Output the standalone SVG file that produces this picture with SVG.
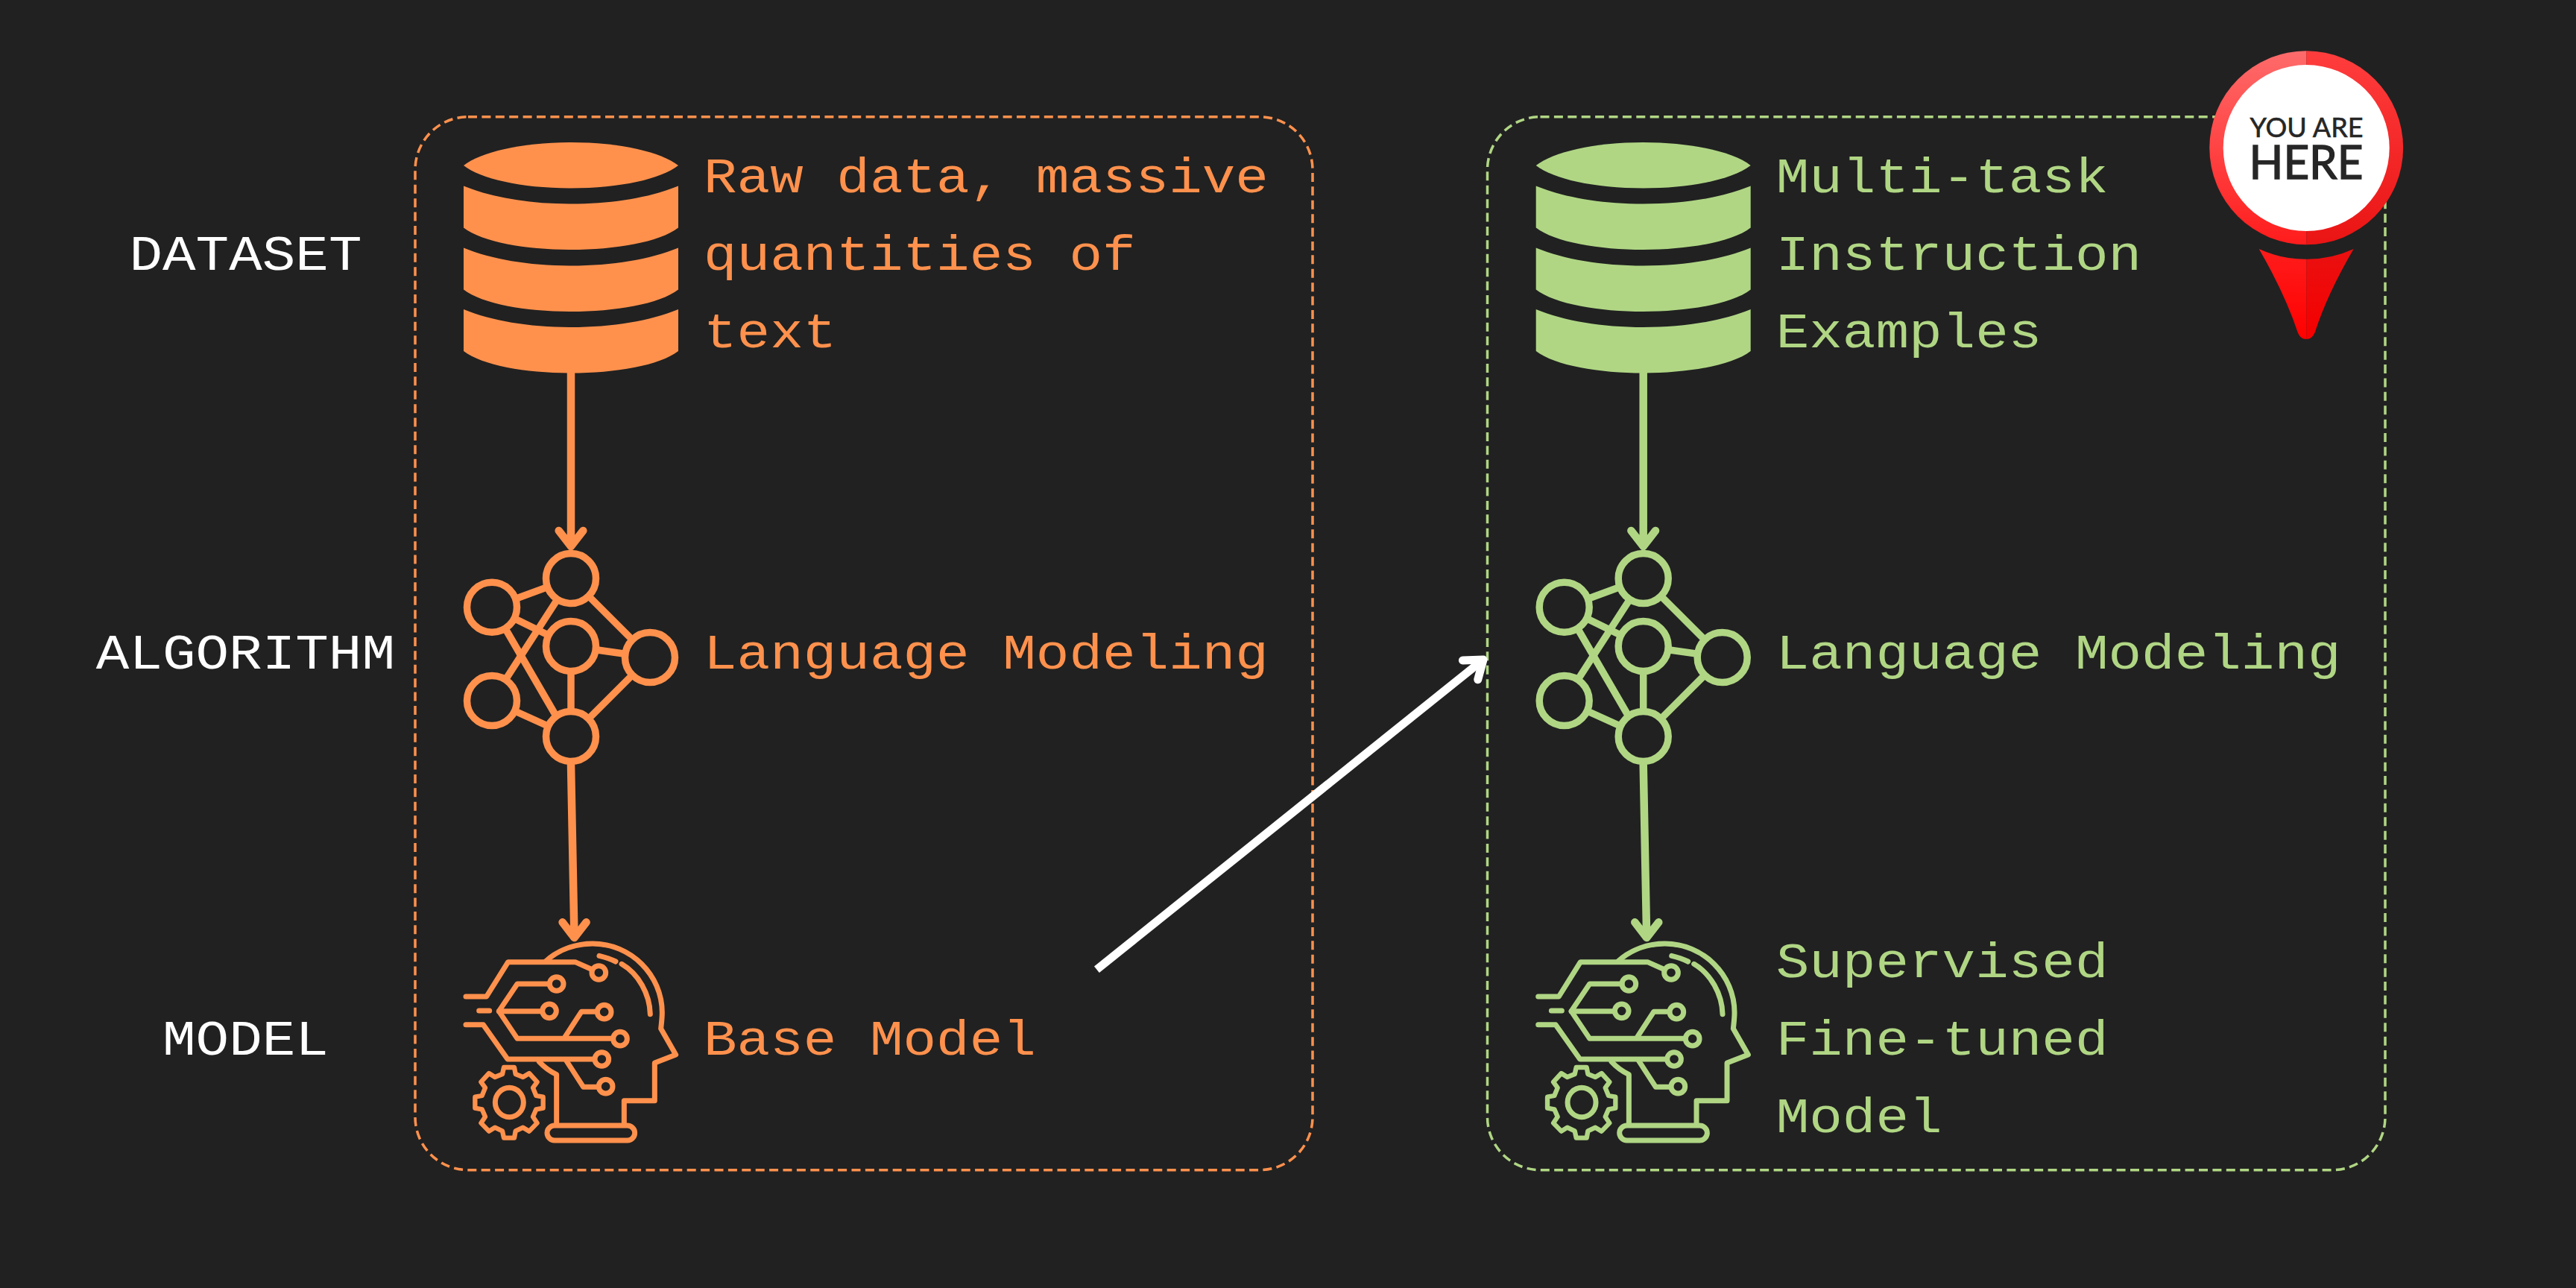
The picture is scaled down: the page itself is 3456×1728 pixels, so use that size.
<svg xmlns="http://www.w3.org/2000/svg" xmlns:xlink="http://www.w3.org/1999/xlink" width="3456" height="1728" viewBox="0 0 3456 1728">
<style>
.or{color:#ff914d}.gr{color:#b0d684}
.frame{fill:none;stroke-width:3.5;stroke-dasharray:12 6.4;stroke:currentColor}
.lb{font-family:"Liberation Mono","DejaVu Sans Mono",monospace;font-size:74.3px;fill:currentColor}
.wh{color:#fff}
.cn{fill:none;stroke:currentColor;stroke-width:10.5;stroke-linecap:round;stroke-linejoin:round}
.ic{fill:none;stroke:currentColor;stroke-linecap:round;stroke-linejoin:round}
.net line{stroke:currentColor;stroke-width:9.5}
.net circle{fill:#212121;stroke:currentColor;stroke-width:9.5}
.pin{font-family:Lato,"Open Sans",sans-serif;text-anchor:middle;fill:#262626;stroke:#262626}
</style>
<defs>
<g id="db" fill="currentColor">
<path d="M622,222 C645,204 700,191 766,191 C832,191 887,204 910,222 C887,240 832,252.5 766,252.5 C700,252.5 645,240 622,222Z"/>
<path d="M622,249.5 C660,265 710,273.5 766,273.5 C822,273.5 872,265 910,249.5 V305.5 C885,325 825,335 766,335 C707,335 647,325 622,305.5Z"/>
<path d="M622,332.5 C660,348 710,356.5 766,356.5 C822,356.5 872,348 910,332.5 V388.5 C885,408 825,418 766,418 C707,418 647,408 622,388.5Z"/>
<path d="M622,415 C660,430.5 710,439 766,439 C822,439 872,430.5 910,415 V471 C885,490.5 825,500.5 766,500.5 C707,500.5 647,490.5 622,471Z"/>
</g>
<g id="net" class="net">
<line x1="660" y1="815" x2="766" y2="776"/><line x1="660" y1="815" x2="766" y2="867"/><line x1="676" y1="840" x2="748" y2="964"/>
<line x1="660" y1="940" x2="766" y2="776"/><line x1="660" y1="940" x2="766" y2="988"/>
<line x1="766" y1="867" x2="872" y2="882"/><line x1="766" y1="867" x2="766" y2="988"/>
<line x1="766" y1="776" x2="872" y2="882"/><line x1="766" y1="988" x2="872" y2="882"/>
<circle cx="766" cy="776" r="33.5"/><circle cx="660" cy="814.7" r="33.5"/><circle cx="660" cy="940" r="33.5"/>
<circle cx="766" cy="867" r="33.5"/><circle cx="872" cy="882" r="33.5"/><circle cx="766" cy="988" r="33.5"/>
</g>
<g id="head" class="ic" transform="translate(600,1240) scale(.33333)" stroke-width="21">
<path d="M395,150 C450,100 520,78 585,78 C740,78 865,205 865,355 C865,380 862,400 860,420 L920,525 L835,558 L835,710 L712,710 L712,805"/>
<path d="M440,805 L440,605 C410,590 390,575 370,553"/>
<rect x="402" y="810" width="353" height="60" rx="30"/>
<path d="M75,291 L158,291 L245,152 L515,152 L578,180"/><circle cx="610" cy="195" r="28"/>
<circle cx="440" cy="240" r="28"/><path d="M412,240 L282,240 L208,350 L282,460 L665,460"/><circle cx="696" cy="461" r="28"/>
<path d="M208,350 L380,350"/><circle cx="411" cy="349" r="28"/>
<path d="M475,452 L540,352 L600,352"/><circle cx="632" cy="353" r="28"/>
<path d="M128,348 L170,348"/>
<path d="M75,404 L145,404 L243,543 L590,543"/><circle cx="622" cy="543" r="28"/>
<path d="M480,550 L548,655 L605,655"/><circle cx="638" cy="653" r="28"/>
<path d="M612,127 Q650,136 678,150"/><path d="M702,160 C770,200 815,280 817,362"/>
<path stroke-width="19" d="M228,576 L270,576 L275,603 L305,615 L330,600 L362,635 L345,658 L358,690 L386,695 L386,740 L358,745 L345,775 L362,800 L330,833 L305,818 L275,832 L270,860 L228,860 L222,832 L192,818 L168,833 L136,800 L153,775 L140,745 L112,740 L112,695 L140,690 L153,658 L136,635 L168,600 L192,615 L222,603Z"/>
<ellipse cx="250" cy="717" rx="57" ry="59"/>
</g>
<linearGradient id="rl" x1="0" y1="0" x2="0" y2="1"><stop offset="0" stop-color="#ff6b6b"/><stop offset="1" stop-color="#ff1c1c"/></linearGradient>
<linearGradient id="rr" x1="0" y1="0" x2="0" y2="1"><stop offset="0" stop-color="#ff3d3d"/><stop offset="1" stop-color="#ea1414"/></linearGradient>
<linearGradient id="tl" x1="0" y1="0" x2="0" y2="1"><stop offset="0" stop-color="#ff1c1c"/><stop offset="1" stop-color="#ff0000"/></linearGradient>
<linearGradient id="tr" x1="0" y1="0" x2="0" y2="1"><stop offset="0" stop-color="#ea1010"/><stop offset="1" stop-color="#f50000"/></linearGradient>
</defs>
<rect width="3456" height="1728" fill="#212121"/>
<g id="frames">
<rect id="frame-left" class="frame or" x="557" y="156.7" width="1204" height="1413" rx="71"/>
<rect id="frame-right" class="frame gr" x="1995.5" y="156.7" width="1204.5" height="1413" rx="71"/>
</g>
<g id="row-labels">
<text id="label-dataset" class="lb wh" transform="translate(173.4,361.7) scale(1,.9)">DATASET</text>
<text id="label-algorithm" class="lb wh" transform="translate(128.8,897.3) scale(1,.9)">ALGORITHM</text>
<text id="label-model" class="lb wh" transform="translate(218,1415) scale(1,.9)">MODEL</text>
</g>
<g id="connectors">
<path class="cn or" d="M766,500 V733 M749.7,712 L766,733 L782.3,712"/>
<path class="cn or" d="M766,1026 L770.5,1258 M754.6,1237.3 L770.5,1258 L786.6,1237.3"/>
<path class="cn gr" d="M2204.7,500 V733 M2188.4,712 L2204.7,733 L2221,712"/>
<path class="cn gr" d="M2204.7,1026 L2209.2,1258 M2193.3,1237.3 L2209.2,1258 L2225.3,1237.3"/>
<path fill="none" stroke="#fff" stroke-width="11" d="M1471.4,1300.7 L1990,885"/>
<path fill="none" stroke="#fff" stroke-width="11" stroke-linecap="round" stroke-linejoin="round" d="M1962.4,886 L1990,885 L1982.7,911.7"/>
</g>
<g id="node-dataset-left" class="or"><use href="#db"/>
<text class="lb" transform="translate(944,258) scale(1,.9)">Raw data, massive</text>
<text class="lb" transform="translate(944,362) scale(1,.9)">quantities of</text>
<text class="lb" transform="translate(944,466) scale(1,.9)">text</text>
</g>
<g id="node-algorithm-left" class="or"><use href="#net"/>
<text class="lb" transform="translate(944,897.3) scale(1,.9)">Language Modeling</text>
</g>
<g id="node-model-left" class="or"><use href="#head"/>
<text class="lb" transform="translate(944,1415) scale(1,.9)">Base Model</text>
</g>
<g id="node-dataset-right" class="gr"><use href="#db" x="1438.7"/>
<text class="lb" transform="translate(2382.7,258) scale(1,.9)">Multi-task</text>
<text class="lb" transform="translate(2382.7,362) scale(1,.9)">Instruction</text>
<text class="lb" transform="translate(2382.7,466) scale(1,.9)">Examples</text>
</g>
<g id="node-algorithm-right" class="gr"><use href="#net" x="1438.7"/>
<text class="lb" transform="translate(2382.7,897.3) scale(1,.9)">Language Modeling</text>
</g>
<g id="node-model-right" class="gr"><use href="#head" x="1438.7"/>
<text class="lb" transform="translate(2382.7,1311) scale(1,.9)">Supervised</text>
<text class="lb" transform="translate(2382.7,1415) scale(1,.9)">Fine-tuned</text>
<text class="lb" transform="translate(2382.7,1519) scale(1,.9)">Model</text>
</g>
<g id="pin">
<path fill="url(#rl)" d="M3094.2,68.3 A130,130 0 0 0 3094.2,328.3Z"/>
<path fill="url(#rr)" d="M3094.2,68.3 A130,130 0 0 1 3094.2,328.3Z"/>
<circle cx="3094.2" cy="198.6" r="111.5" fill="#fff"/>
<path fill="url(#tl)" d="M3030.7,334 A149.4,149.4 0 0 0 3094.2,347.7 V455 Q3086,455 3082.7,446 Q3066,395 3030.7,334Z"/>
<path fill="url(#tr)" d="M3157.7,334 A149.4,149.4 0 0 1 3094.2,347.7 V455 Q3102,455 3105.7,446 Q3122,395 3157.7,334Z"/>
<text class="pin"><tspan x="3094.5" y="184" font-size="36" stroke-width=".6" textLength="152" lengthAdjust="spacingAndGlyphs">YOU ARE</tspan><tspan x="3094" y="240" font-size="61.5" stroke-width="1.4" textLength="153" lengthAdjust="spacingAndGlyphs">HERE</tspan></text>
</g>
</svg>
